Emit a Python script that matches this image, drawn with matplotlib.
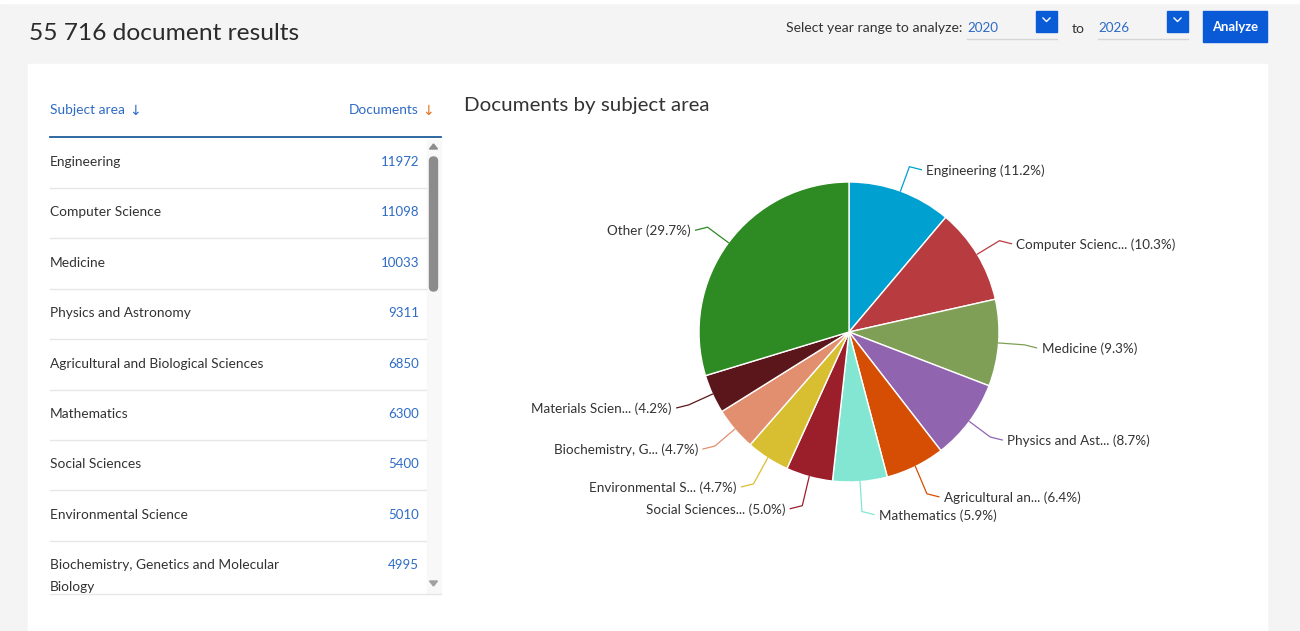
import numpy as np
import matplotlib
matplotlib.use("Agg")
import matplotlib.pyplot as plt
from matplotlib.patches import Rectangle, FancyBboxPatch, Polygon

plt.rcParams['font.family'] = ['Lato', 'DejaVu Sans']

# data
subjects = ["Engineering", "Computer Science", "Medicine", "Physics and Astronomy",
            "Agricultural and Biological Sciences", "Mathematics", "Social Sciences",
            "Environmental Science", "Biochemistry, Genetics and Molecular\nBiology"]
documents = [11972, 11098, 10033, 9311, 6850, 6300, 5400, 5010, 4995]

pie_labels = ["Engineering", "Computer Scienc...", "Medicine", "Physics and Ast...",
              "Agricultural an...", "Mathematics", "Social Sciences...",
              "Environmental S...", "Biochemistry, G...", "Materials Scien...", "Other"]
pie_values = documents + [4500, 31880]
pie_colors = ['#00a0d0', '#b83b40', '#7e9f55', '#9164b0', '#d64d04', '#83e6d3',
              '#9b1e2b', '#d8bf31', '#e18f6f', '#5a161a', '#2e8a22']

BLUE = '#2e6bc6'
DARK = '#333333'


def px(size):
    return size / 1.389


fig = plt.figure(figsize=(13, 6.31), dpi=100)
fig.patch.set_facecolor('#f4f4f4')
ax = fig.add_axes([0, 0, 1, 1])
ax.set_xlim(0, 1300)
ax.set_ylim(631, 0)
ax.axis('off')

# page background
ax.add_patch(Rectangle((0, 0), 1300, 3, color='white', zorder=0))
ax.add_patch(Rectangle((28, 64), 1239, 570, color='white', zorder=0))

ax.text(29, 34, "55 716 document results", fontsize=px(24.5), color='#2b2b2b', va='center')

# year range controls
ax.text(786, 28, "Select year range to analyze:", fontsize=px(14), color=DARK, va='center')
for x0, year in [(967, "2020"), (1098, "2026")]:
    ax.text(x0, 28, year, fontsize=px(13.5), color=BLUE, va='center')
    ax.plot([x0, x0 + 90], [38.5, 38.5], color='#d6d6d6', lw=1)
    bx = x0 + 69
    ax.add_patch(Rectangle((bx, 11), 21, 21, color='#0a5bd6'))
    ax.plot([bx + 7, bx + 10.5, bx + 14], [18, 21.5, 18], color='white', lw=1)
ax.text(1072, 29, "to", fontsize=px(14), color=DARK, va='center')
ax.add_patch(Rectangle((1203, 11), 64, 31, color='#0a5ad8'))
ax.text(1235, 27, "Analyze", fontsize=px(13), color='white', va='center', ha='center',
        fontweight='bold')

# table
ax.text(50, 110, "Subject area", fontsize=px(13.8), color=BLUE, va='center')
ax.text(129, 111, "\u2193", fontsize=px(14), color=BLUE, va='center', family='DejaVu Sans')
ax.text(419, 110, "Documents", fontsize=px(13.8), color=BLUE, va='center', ha='right')
ax.text(422, 111, "\u2193", fontsize=px(14), color='#e9711c', va='center', family='DejaVu Sans')
ax.plot([50, 441], [137, 137], color='#1f5c99', lw=1.3)

row_y = 162
for name, val in zip(subjects, documents):
    lines = name.split('\n')
    for k, line in enumerate(lines):
        ax.text(50, row_y + 22 * k, line, fontsize=px(13.8), color=DARK, va='center')
    ax.text(419, row_y, str(val), fontsize=px(13.3), color=BLUE, va='center', ha='right')
    row_y += 50.4
for i in range(8):
    y = 188 + 50.4 * i
    ax.plot([50, 426], [y, y], color='#e6e6e6', lw=1)
ax.plot([50, 441], [594, 594], color='#e6e6e6', lw=1)

# scrollbar
ax.add_patch(Rectangle((427, 140), 14, 454, color='#f8f8f8', zorder=1))
ax.add_patch(FancyBboxPatch((429.5, 157), 8, 134, boxstyle="round,pad=0,rounding_size=4",
                            color='#8c8c8c', zorder=2))
ax.add_patch(Polygon([[429.5, 149], [437.5, 149], [433.5, 144]], color='#8c8c8c', zorder=2))
ax.add_patch(Polygon([[429.5, 581], [437.5, 581], [433.5, 586]], color='#a0a0a0', zorder=2))

# pie chart
ax.text(464, 106, "Documents by subject area", fontsize=px(20.5), color=DARK, va='center')

pax = fig.add_axes([499 / 1300, (631 - 632) / 631, 700 / 1300, 600 / 631])
R = 150
wedges, _ = pax.pie(pie_values, colors=pie_colors, startangle=90, counterclock=False,
                    radius=R, center=(0, 0),
                    wedgeprops=dict(edgecolor='white', linewidth=1))
pax.set_xlim(-350, 350)
pax.set_ylim(-300, 300)
pax.set_aspect('auto')
pax.axis('off')

total = sum(pie_values)
for w, lab, val, col in zip(wedges, pie_labels, pie_values, pie_colors):
    mid = np.deg2rad((w.theta1 + w.theta2) / 2)
    cx, cy = np.cos(mid), np.sin(mid)
    x0, y0 = R * cx, R * cy
    x1, y1 = 176 * cx, 176 * cy
    if cy < -0.8:
        y1 -= 4
    side = 1 if cx >= 0 else -1
    x2 = x1 + side * 12
    pax.plot([x0, x1, x2], [y0, y1, y1 - 3], color=col, lw=0.9, clip_on=False)
    pax.text(x2 + side * 5, y1 - 4, f"{lab} ({val / total * 100:.1f}%)",
             fontsize=px(13.5), color=DARK, va='center', ha='left' if side > 0 else 'right',
             clip_on=False)

fig.savefig("out.png", dpi=100, facecolor=fig.get_facecolor())
